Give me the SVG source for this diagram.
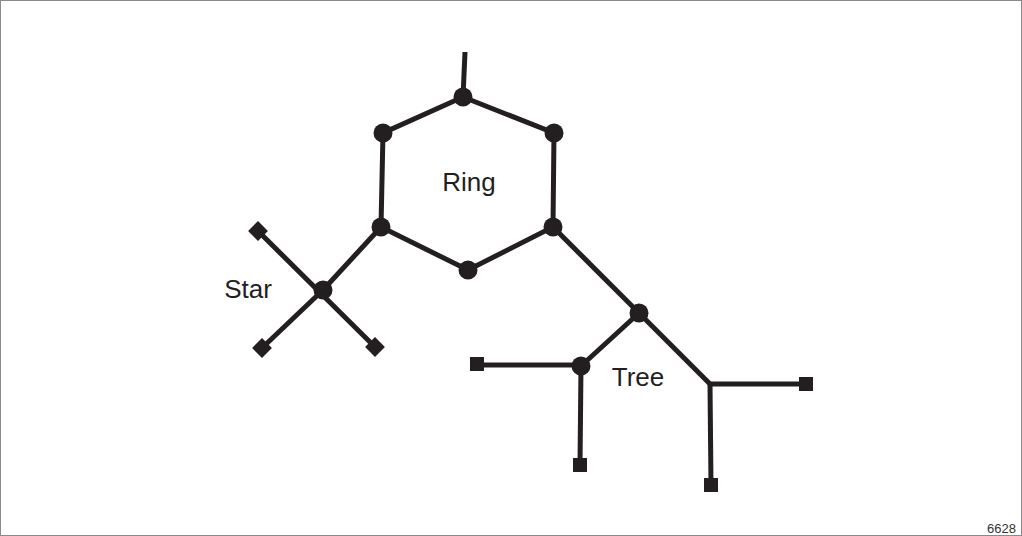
<svg xmlns="http://www.w3.org/2000/svg" width="1022" height="536" viewBox="0 0 1022 536">
<style>
.e{stroke:#231f20;stroke-width:5;fill:none;stroke-linecap:butt}
.n{fill:#231f20}
.t{font-family:"Liberation Sans",Arial,sans-serif;font-size:26px;fill:#231f20}
</style>
<defs>
<circle id="dot" r="9.5" class="n"/>
<rect id="sq" x="-7" y="-7" width="14" height="14" class="n"/>
<rect id="dm" x="-7" y="-7" width="14" height="14" class="n" transform="rotate(45)"/>
</defs>
<rect x="0.5" y="0.5" width="1021" height="535" fill="#fff" stroke="#8a8a8a" stroke-width="1"/>
<g id="connectors">
<line class="e" x1="465" y1="52" x2="463" y2="97"/>
<polyline class="e" points="463,97 554,133 553,227 468,270 381,227 383,133 463,97"/>
<line class="e" x1="381" y1="227" x2="323" y2="290"/>
<line class="e" x1="258" y1="231" x2="375" y2="347"/>
<line class="e" x1="323" y1="290" x2="262" y2="348"/>
<polyline class="e" points="553,227 639,313 710,384"/>
<line class="e" x1="639" y1="313" x2="581" y2="366"/>
<line class="e" x1="477" y1="365" x2="581" y2="365"/>
<line class="e" x1="581" y1="365" x2="580" y2="465"/>
<line class="e" x1="708" y1="384" x2="806" y2="384"/>
<line class="e" x1="710" y1="384" x2="711" y2="485"/>
</g>
<g id="ring">
<use href="#dot" x="463" y="97"/>
<use href="#dot" x="383" y="133"/>
<use href="#dot" x="554" y="133"/>
<use href="#dot" x="381" y="227"/>
<use href="#dot" x="553" y="227"/>
<use href="#dot" x="468" y="270"/>
<text class="t" x="469" y="191" text-anchor="middle">Ring</text>
</g>
<g id="star">
<use href="#dot" x="323" y="290"/>
<use href="#dm" x="258" y="231"/>
<use href="#dm" x="262" y="348"/>
<use href="#dm" x="375" y="347"/>
<text class="t" x="248" y="298" text-anchor="middle">Star</text>
</g>
<g id="tree">
<use href="#dot" x="639" y="313"/>
<use href="#dot" x="581" y="366"/>
<use href="#sq" x="477" y="364"/>
<use href="#sq" x="580" y="465"/>
<use href="#sq" x="806" y="384"/>
<use href="#sq" x="711" y="485"/>
<text class="t" x="638" y="386" text-anchor="middle">Tree</text>
</g>
<text x="1016" y="533" text-anchor="end" font-family="Liberation Sans,Arial,sans-serif" font-size="13" fill="#333">6628</text>
</svg>
